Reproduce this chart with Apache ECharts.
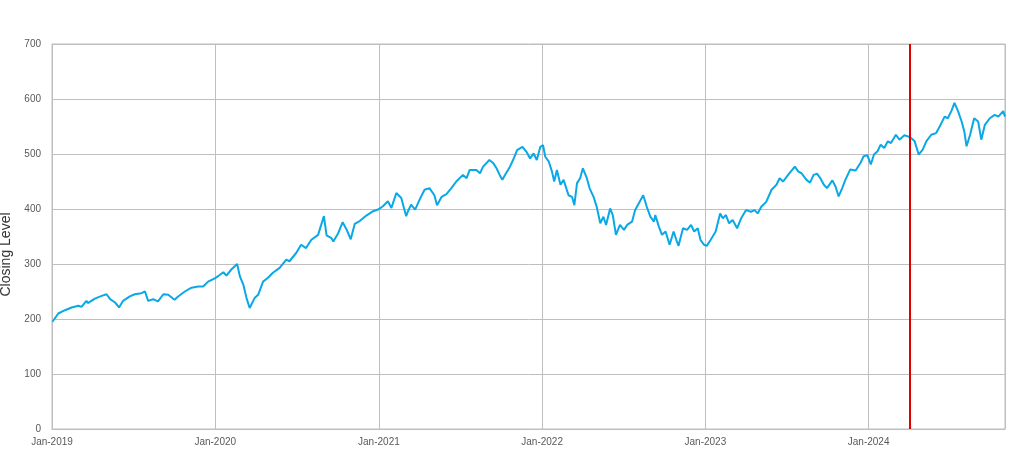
<!DOCTYPE html>
<html>
<head>
<meta charset="utf-8">
<script src="https://cdn.jsdelivr.net/npm/echarts@6/dist/echarts.min.js"></script>
<style>
  html, body { margin: 0; padding: 0; background: #ffffff; }
  #chart { width: 1019px; height: 463px; }
</style>
</head>
<body>
<div id="chart"></div>
<script>
// ---- Data ----
const dates = [
  '2019-01-02','2019-01-15','2019-01-30','2019-02-14','2019-03-01','2019-03-08','2019-03-19','2019-03-22',
  '2019-04-07','2019-04-22','2019-05-03','2019-05-11','2019-05-22','2019-05-31','2019-06-09','2019-06-24',
  '2019-07-05','2019-07-20','2019-07-28','2019-08-04','2019-08-15','2019-08-26','2019-09-07','2019-09-18',
  '2019-10-02','2019-10-10','2019-10-25','2019-11-09','2019-11-24','2019-12-05','2019-12-16','2019-12-31',
  '2020-01-11','2020-01-19','2020-01-26','2020-02-06','2020-02-19','2020-02-25','2020-03-04','2020-03-11',
  '2020-03-18','2020-03-22','2020-03-29','2020-04-06','2020-04-17','2020-04-28','2020-05-09','2020-05-24',
  '2020-06-08','2020-06-15','2020-06-30','2020-07-11','2020-07-22','2020-08-03','2020-08-18','2020-08-31',
  '2020-09-06','2020-09-17','2020-09-21','2020-10-02','2020-10-12','2020-10-21','2020-10-30','2020-11-08',
  '2020-11-19','2020-12-04','2020-12-19','2020-12-30',
  '2021-01-10','2021-01-21','2021-01-29','2021-02-09','2021-02-20','2021-03-03','2021-03-07','2021-03-14',
  '2021-03-23','2021-04-02','2021-04-13','2021-04-24','2021-05-05','2021-05-11','2021-05-21','2021-06-01',
  '2021-06-12','2021-06-23','2021-07-08','2021-07-16','2021-07-23','2021-08-07','2021-08-15','2021-08-22',
  '2021-09-05','2021-09-14','2021-09-21','2021-09-28','2021-10-04','2021-10-10','2021-10-21','2021-10-28',
  '2021-11-06','2021-11-18','2021-11-27','2021-12-05','2021-12-13','2021-12-20','2021-12-28',
  '2022-01-03','2022-01-08','2022-01-16','2022-01-23','2022-01-28','2022-02-03','2022-02-11','2022-02-18',
  '2022-03-01','2022-03-09','2022-03-14','2022-03-20','2022-03-27','2022-04-02','2022-04-11','2022-04-17',
  '2022-04-26','2022-05-03','2022-05-11','2022-05-18','2022-05-24','2022-06-02','2022-06-08','2022-06-15',
  '2022-06-24','2022-07-03','2022-07-10','2022-07-21','2022-07-28','2022-08-05','2022-08-15','2022-08-23',
  '2022-08-31','2022-09-08','2022-09-11','2022-09-19','2022-09-26','2022-10-04','2022-10-13','2022-10-22',
  '2022-10-28','2022-11-02','2022-11-12','2022-11-21','2022-11-30','2022-12-07','2022-12-15','2022-12-21',
  '2022-12-29',
  '2023-01-04','2023-01-13','2023-01-24','2023-02-03','2023-02-09','2023-02-16','2023-02-23','2023-03-03',
  '2023-03-13','2023-03-22','2023-04-02','2023-04-13','2023-04-21','2023-04-28','2023-05-06','2023-05-17',
  '2023-05-29','2023-06-09','2023-06-16','2023-06-24','2023-07-05','2023-07-20','2023-07-28','2023-08-04',
  '2023-08-15','2023-08-23','2023-08-31','2023-09-08','2023-09-15','2023-09-23','2023-09-30','2023-10-12',
  '2023-10-19','2023-10-26','2023-11-03','2023-11-10','2023-11-21','2023-12-03','2023-12-14','2023-12-21',
  '2023-12-29',
  '2024-01-06','2024-01-13','2024-01-21','2024-01-28','2024-02-05','2024-02-13','2024-02-20','2024-03-02',
  '2024-03-10','2024-03-21','2024-03-29','2024-04-05','2024-04-13','2024-04-22','2024-05-01','2024-05-09',
  '2024-05-20','2024-05-31','2024-06-08','2024-06-19','2024-06-26','2024-07-04','2024-07-11','2024-07-19',
  '2024-07-27','2024-08-02','2024-08-07','2024-08-15','2024-08-24','2024-09-02','2024-09-09','2024-09-17',
  '2024-09-28','2024-10-09','2024-10-17','2024-10-28','2024-11-01'
];
const closingLevel = [
  195,210,216,221,224,222,233,229,
  237,242,245,236,230,221,233,241,
  245,247,250,233,236,232,245,244,
  235,241,250,257,259,259,268,274,
  280,285,279,290,300,278,262,238,
  220,217,238,244,268,275,284,293,
  308,305,320,335,329,344,353,387,
  352,347,341,356,376,362,345,373,
  378,388,396,399,
  405,414,402,429,420,387,396,408,
  399,417,435,438,425,407,422,427,
  438,450,462,456,471,471,465,477,
  489,483,474,462,453,462,477,489,
  507,513,504,492,501,489,513,
  516,495,486,468,450,471,444,453,
  425,422,407,447,456,474,456,438,
  422,404,374,386,371,401,389,353,
  371,362,371,377,398,410,425,404,
  386,377,389,368,353,359,335,359,
  344,333,365,362,371,359,365,344,
  335,
  333,344,359,392,383,389,374,380,
  365,383,398,395,398,392,404,413,
  435,444,456,450,462,477,468,465,
  453,448,462,464,456,444,438,452,
  441,423,438,453,472,470,484,496,
  498,
  481,499,505,517,511,523,520,535,
  526,534,532,529,523,499,508,523,
  535,538,550,568,565,578,593,578,
  559,541,514,535,565,559,526,553,
  565,571,568,578,568
];
const markerDate = '2024-04-01';
const xMin = '2019-01-01';
const xMax = '2024-11-01';
const yTicks = [0, 100, 200, 300, 400, 500, 600, 700];
const yTitle = 'Closing Level';

const seriesData = dates.map((d, i) => [d, closingLevel[i]]);
const YEAR = 365.25 * 24 * 3600 * 1000;
const MONTHS = ['Jan','Feb','Mar','Apr','May','Jun','Jul','Aug','Sep','Oct','Nov','Dec'];

const chart = echarts.init(document.getElementById('chart'), null, { renderer: 'canvas' });
chart.setOption({
  animation: false,
  backgroundColor: '#ffffff',
  grid: {
    left: 52, right: 14, top: 44, bottom: 34,
    outerBoundsMode: 'none',
    containLabel: false,
    show: true, borderColor: '#BFBFBF', borderWidth: 1
  },
  xAxis: {
    type: 'time',
    min: xMin,
    max: xMax,
    minInterval: YEAR,
    maxInterval: YEAR,
    axisLine: { show: true, lineStyle: { color: '#BFBFBF', width: 1 } },
    axisTick: { show: false },
    splitLine: { show: true, lineStyle: { color: '#BFBFBF', width: 1 } },
    axisLabel: {
      color: '#595959',
      fontFamily: 'Liberation Sans',
      fontSize: 10,
      margin: 8,
      showMaxLabel: false,
      formatter: function (v) {
        const d = new Date(v);
        if (d.getMonth() === 0 && d.getDate() === 1) {
          return MONTHS[d.getMonth()] + '-' + d.getFullYear();
        }
        return '';
      }
    }
  },
  yAxis: {
    type: 'value',
    min: yTicks[0],
    max: yTicks[yTicks.length - 1],
    interval: yTicks[1] - yTicks[0],
    name: yTitle,
    nameLocation: 'middle',
    nameGap: 38,
    nameTextStyle: {
      color: '#333333', fontFamily: 'Liberation Sans', fontSize: 14,
      padding: [0, 36, 0, 0]
    },
    axisLine: { show: true, lineStyle: { color: '#BFBFBF', width: 1 } },
    axisTick: { show: false },
    splitLine: { show: true, lineStyle: { color: '#BFBFBF', width: 1 } },
    axisLabel: { color: '#595959', fontFamily: 'Liberation Sans', fontSize: 10, margin: 11 }
  },
  series: [{
    type: 'line',
    data: seriesData,
    showSymbol: false,
    symbol: 'none',
    lineStyle: { color: '#0AA8E6', width: 2 },
    itemStyle: { color: '#0AA8E6' },
    z: 3,
    markLine: {
      silent: true,
      symbol: ['none', 'none'],
      label: { show: false },
      lineStyle: { color: '#E00000', width: 2, type: 'solid' },
      data: [{ xAxis: markerDate }]
    }
  }]
});
</script>
</body>
</html>
